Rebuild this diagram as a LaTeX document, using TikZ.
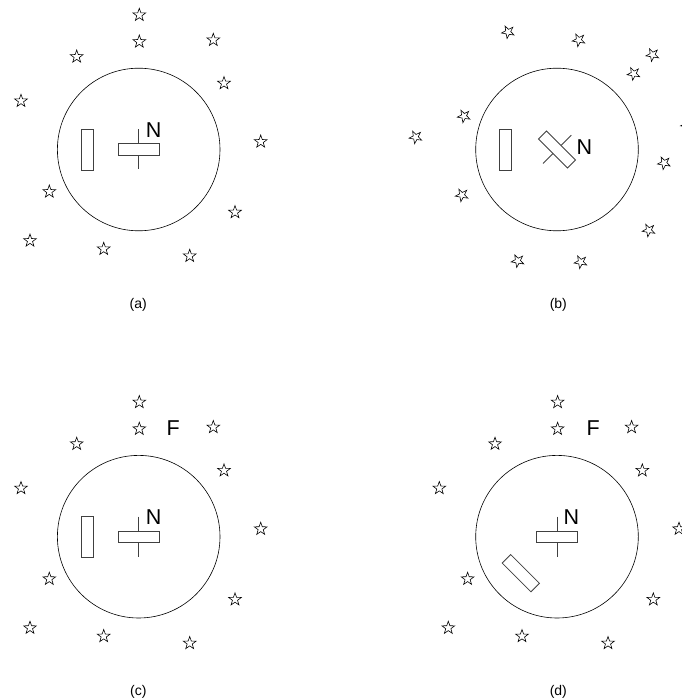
\documentclass[tikz,border=0pt]{standalone}
\usepackage{fontspec}
\setmainfont{Liberation Sans}
\usetikzlibrary{shapes.geometric}
\newcommand\skypoints{0.6/-134.5, 0.6/-107.8, -62/-92.8, 74.6/-109.5, 85.3/-66.2, -117.7/-48.5, 122/-7.8, -89.4/42.2, 96.3/62.8, -108.7/91.2, -35/99.5, 51/106.5}
\tikzset{
  sky/.style={draw, star, star points=5, star point ratio=2.5, minimum size=13.4pt, inner sep=0pt, line width=0.6pt, transform shape},
  dial/.style={draw, circle, minimum size=162.6pt, inner sep=0pt, line width=0.6pt},
  bar/.style={draw=black!75, fill=white, rectangle, minimum width=41pt, minimum height=11.3pt, inner sep=0pt, line width=0.8pt, transform shape},
  slab/.style={draw=black!75, rectangle, minimum width=12pt, minimum height=40.7pt, inner sep=0pt, line width=0.8pt, transform shape},
  needle/.style={draw=black!75, line width=0.8pt},
  letter/.style={font=\fontsize{21.5}{21.5}\selectfont, inner sep=0pt},
  caption/.style={font=\fontsize{14}{14}\selectfont, inner sep=0pt}
}
\begin{document}
\begin{tikzpicture}[x=1pt, y=-1pt]
  \useasboundingbox (0,0) rectangle (681,700);
  \begin{scope}[shift={(138.7,149.5)}]
    \node[dial] (dial a) at (0,0) {};
    \node[slab] (slab a) at (-51.4,0.2) {};
    \coordinate (tip a) at (0,-20.2);
    \coordinate (tail a) at (0,19.8);
    \draw[needle] (tip a) -- (tail a);
    \node[bar] (bar a) at (0,0) {};
    \node[letter] (north a) at (15,-19.5) {N};
    \foreach \sx/\sy [count=\i] in \skypoints {
      \node[sky] (star a\i) at (\sx,\sy) {};
    }
    \node[caption] (cap a) at (-0.4,155.5) {(a)};
  \end{scope}
  \begin{scope}[shift={(557,149.5)}]
    \node[dial] (dial b) at (0,0) {};
    \node[slab] (slab b) at (-51.7,0.2) {};
    \begin{scope}[rotate=-45]
      \coordinate (tip b) at (0,-20.2);
      \coordinate (tail b) at (0,19.8);
      \draw[needle] (tip b) -- (tail b);
      \node[bar] (bar b) at (0,0) {};
      \foreach \sx/\sy [count=\i] in \skypoints {
        \node[sky] (star b\i) at (\sx,\sy) {};
      }
    \end{scope}
    \node[letter] (north b) at (27.5,-2.8) {N};
    \node[caption] (cap b) at (1.3,155.5) {(b)};
  \end{scope}
  \begin{scope}[shift={(138.7,536.7)}]
    \node[dial] (dial c) at (0,0) {};
    \node[slab] (slab c) at (-51.4,0.2) {};
    \coordinate (tip c) at (0,-20.2);
    \coordinate (tail c) at (0,19.8);
    \draw[needle] (tip c) -- (tail c);
    \node[bar] (bar c) at (0,0) {};
    \node[letter] (north c) at (15,-19.5) {N};
    \node[letter] (far c) at (34.6,-108.4) {F};
    \foreach \sx/\sy [count=\i] in \skypoints {
      \node[sky] (star c\i) at (\sx,\sy) {};
    }
    \node[caption] (cap c) at (-0.4,155.5) {(c)};
  \end{scope}
  \begin{scope}[shift={(557,536.7)}]
    \node[dial] (dial d) at (0,0) {};
    \begin{scope}[rotate=45]
      \node[slab] (slab d) at (-51.4,0.2) {};
    \end{scope}
    \coordinate (tip d) at (0,-20.2);
    \coordinate (tail d) at (0,19.8);
    \draw[needle] (tip d) -- (tail d);
    \node[bar] (bar d) at (0,0) {};
    \node[letter] (north d) at (14.5,-19.4) {N};
    \node[letter] (far d) at (36.3,-108.4) {F};
    \foreach \sx/\sy [count=\i] in \skypoints {
      \node[sky] (star d\i) at (\sx,\sy) {};
    }
    \node[caption] (cap d) at (1.3,155.5) {(d)};
  \end{scope}
\end{tikzpicture}
\end{document}
